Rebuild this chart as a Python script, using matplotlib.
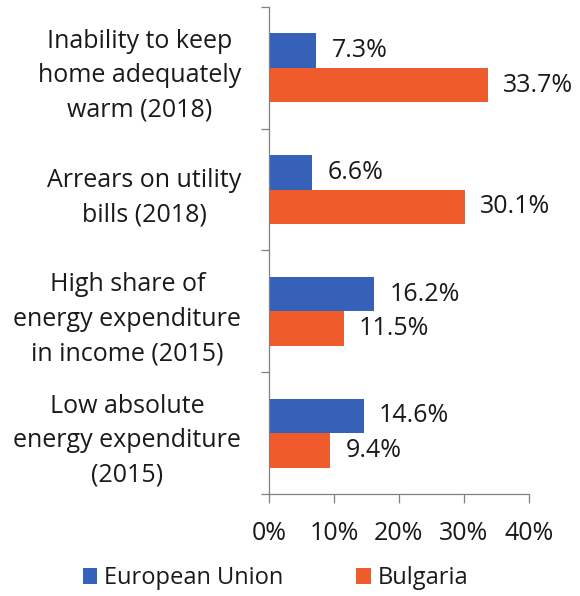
import numpy as np
import matplotlib.pyplot as plt
from matplotlib.ticker import FixedLocator, PercentFormatter

plt.rcParams['font.family'] = ['Open Sans', 'DejaVu Sans']

categories = [
    "Inability to keep\nhome adequately\nwarm (2018)",
    "Arrears on utility\nbills (2018)",
    "High share of\nenergy expenditure\nin income (2015)",
    "Low absolute\nenergy expenditure\n(2015)",
]
eu = [7.3, 6.6, 16.2, 14.6]
bg = [33.7, 30.1, 11.5, 9.4]
series_names = ["European Union", "Bulgaria"]
colors = ["#3561B9", "#EF5B2B"]

fig = plt.figure(figsize=(5.8, 5.96), dpi=100)
ax = fig.add_axes([0.4638, 0.1711, 0.448, 0.8172])

y = np.arange(len(categories))
h = 0.283
b1 = ax.barh(y - h / 2, eu, height=h, color=colors[0], label=series_names[0])
b2 = ax.barh(y + h / 2, bg, height=h, color=colors[1], label=series_names[1])

fs = 18
for bars, vals in ((b1, eu), (b2, bg)):
    ax.bar_label(bars, labels=[f"{v:.1f}%" for v in vals], padding=11,
                 fontsize=fs, color="#1a1a1a")

ax.set_xlim(0, 40)
ax.set_ylim(len(categories) - 0.5, -0.5)
ax.set_xticks([0, 10, 20, 30, 40])
ax.xaxis.set_major_formatter(PercentFormatter(decimals=0))

# category boundaries get the tick marks, centres get the labels
ax.yaxis.set_major_locator(FixedLocator(np.arange(-0.5, len(categories), 1)))
ax.yaxis.set_minor_locator(FixedLocator(y))
ax.set_yticklabels([], minor=False)
ax.set_yticklabels(categories, minor=True, multialignment="center",
                   linespacing=1.5)

ax.tick_params(axis="x", length=6.5, width=0.9, color="#808080",
               labelsize=fs, pad=13, labelcolor="#1a1a1a")
ax.tick_params(axis="y", which="major", length=6, width=0.9, color="#808080")
ax.tick_params(axis="y", which="minor", length=0, labelsize=fs, pad=20,
               labelcolor="#1a1a1a")

for s in ("top", "right"):
    ax.spines[s].set_visible(False)
for s in ("left", "bottom"):
    ax.spines[s].set_color("#808080")
    ax.spines[s].set_linewidth(0.9)

fig.legend(loc="center", bbox_to_anchor=(0.475, 0.03), ncol=2, frameon=False,
           fontsize=17, handlelength=0.6, handleheight=0.7, handletextpad=0.3,
           columnspacing=3.1, labelcolor="#1a1a1a", borderpad=0.1)

fig.savefig("out.png", dpi=100)
